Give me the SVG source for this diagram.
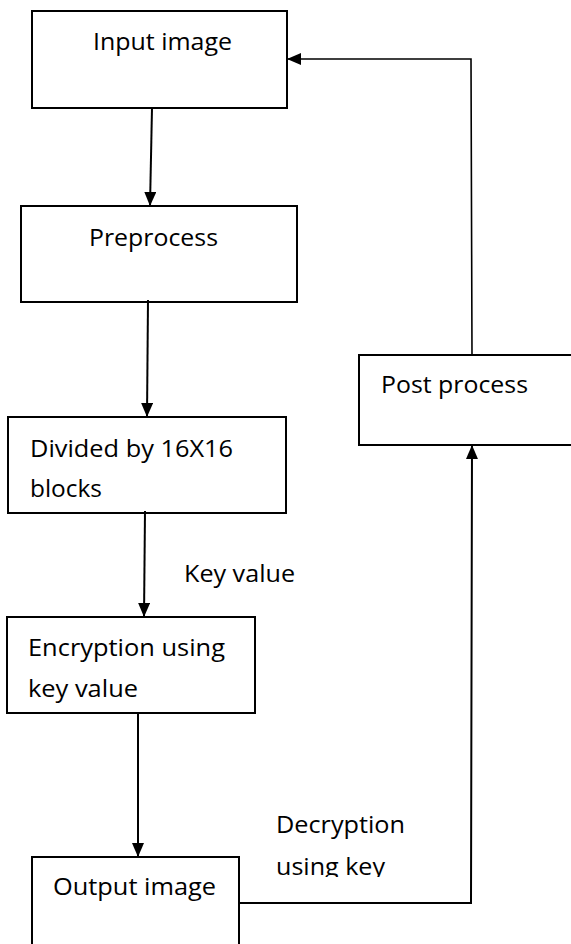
<svg xmlns="http://www.w3.org/2000/svg" width="571" height="944" viewBox="0 0 571 944">
<style>
.box{fill:#fff;stroke:#000;stroke-width:2}
.t{font-family:"Open Sans","Noto Sans","Liberation Sans",sans-serif;font-size:24.5px;fill:#000}
.c{fill:none;stroke:#000;stroke-width:2}
</style>
<defs>
<marker id="ah" viewBox="0 0 14 12" refX="14" refY="6" markerWidth="14" markerHeight="12" markerUnits="userSpaceOnUse" orient="auto">
<path d="M0,0 L14,6 L0,12 z" fill="#000"/>
</marker>
<clipPath id="clipDec"><rect x="260" y="800" width="200" height="77"/></clipPath>
</defs>
<g id="input">
<rect class="box" x="32" y="11" width="255" height="97"/>
<text class="t" x="93" y="50" textLength="139" lengthAdjust="spacingAndGlyphs">Input image</text>
</g>
<g id="preprocess">
<rect class="box" x="21" y="206" width="276" height="96"/>
<text class="t" x="89" y="246" textLength="129" lengthAdjust="spacingAndGlyphs">Preprocess</text>
</g>
<g id="divided">
<rect class="box" x="8" y="417" width="278" height="96"/>
<text class="t" x="30" y="457" textLength="203" lengthAdjust="spacingAndGlyphs">Divided by 16X16</text>
<text class="t" x="30" y="497" textLength="72" lengthAdjust="spacingAndGlyphs">blocks</text>
</g>
<g id="encryption">
<rect class="box" x="7" y="617" width="248" height="96"/>
<text class="t" x="28" y="656" textLength="197" lengthAdjust="spacingAndGlyphs">Encryption using</text>
<text class="t" x="28" y="697" textLength="110" lengthAdjust="spacingAndGlyphs">key value</text>
</g>
<g id="output">
<rect class="box" x="32" y="857" width="207" height="100"/>
<text class="t" x="53" y="895" textLength="163" lengthAdjust="spacingAndGlyphs">Output image</text>
</g>
<g id="postprocess">
<rect class="box" x="359" y="355" width="220" height="90"/>
<text class="t" x="381" y="393" textLength="147" lengthAdjust="spacingAndGlyphs">Post process</text>
</g>
<g id="connectors">
<line class="c" x1="152" y1="108" x2="150" y2="206" marker-end="url(#ah)"/>
<line class="c" x1="148" y1="300" x2="147" y2="417" marker-end="url(#ah)"/>
<line class="c" x1="145" y1="511" x2="144" y2="617" marker-end="url(#ah)"/>
<line class="c" x1="138" y1="713" x2="138" y2="857" marker-end="url(#ah)"/>
<polyline class="c" points="239,903 471,903 472,445" marker-end="url(#ah)"/>
<polyline class="c" style="stroke-width:1.6" points="472,355 471,59 287,59" marker-end="url(#ah)"/>
<text class="t" x="184" y="582" textLength="111" lengthAdjust="spacingAndGlyphs">Key value</text>
<text class="t" x="276" y="833" textLength="129" lengthAdjust="spacingAndGlyphs">Decryption</text>
<text class="t" x="276" y="875" textLength="109" lengthAdjust="spacingAndGlyphs" clip-path="url(#clipDec)">using key</text>
</g>
</svg>
